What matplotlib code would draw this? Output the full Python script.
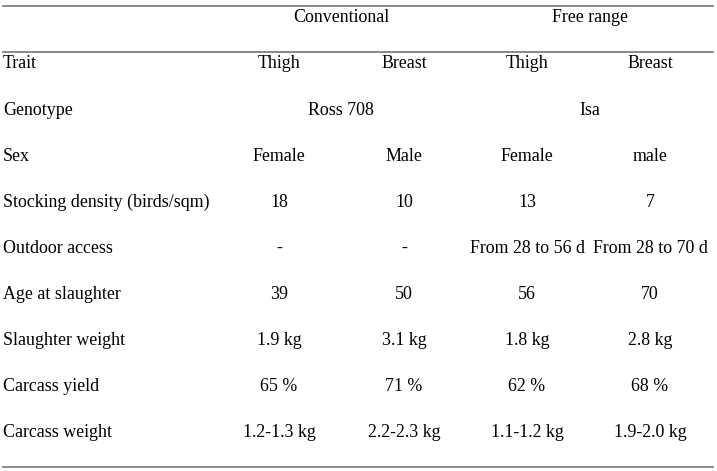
import matplotlib.pyplot as plt

plt.rcParams['font.family'] = ['Liberation Serif', 'DejaVu Serif']

systems = ["Conventional", "Free range"]
row_labels = ["Trait", "Genotype", "Sex", "Stocking density (birds/sqm)",
              "Outdoor access", "Age at slaughter", "Slaughter weight",
              "Carcass yield", "Carcass weight"]
trait = ["Thigh", "Breast", "Thigh", "Breast"]
genotype = ["Ross 708", "Isa"]
sex = ["Female", "Male", "Female", "male"]
density = ["18", "10", "13", "7"]
outdoor = ["-", "-", "From 28 to 56 d", "From 28 to 70 d"]
age = ["39", "50", "56", "70"]
slaughter_w = ["1.9 kg", "3.1 kg", "1.8 kg", "2.8 kg"]
yield_pct = ["65 %", "71 %", "62 %", "68 %"]
carcass_w = ["1.2-1.3 kg", "2.2-2.3 kg", "1.1-1.2 kg", "1.9-2.0 kg"]

fig = plt.figure(figsize=(7.17, 4.71), dpi=100)
ax = fig.add_axes([0, 0, 1, 1])
ax.set_xlim(0, 717)
ax.set_ylim(471, 0)
ax.axis('off')

fs = 12.9
col_x = [279, 404, 527, 650]
grp_x = [341, 590]
row_y = [64 + 46.1 * i for i in range(len(row_labels))]

# rules
lc = '#7f7f7f'
ax.plot([3, 713], [6, 6], color=lc, lw=1.3)
ax.plot([3, 713], [52, 52], color=lc, lw=1.3)
ax.plot([3, 713], [467, 467], color=lc, lw=1.3)

for x, s in zip(grp_x, systems):
    ax.text(x, 17, s, ha='center', va='center', fontsize=fs)

for y, lab in zip(row_y, row_labels):
    ax.text(3, y, lab, ha='left', va='center', fontsize=fs)

full_rows = [trait, None, sex, density, outdoor, age, slaughter_w, yield_pct, carcass_w]
for y, vals in zip(row_y, full_rows):
    if vals is None:
        for x, g in zip(grp_x, genotype):
            ax.text(x, y, g, ha='center', va='center', fontsize=fs)
        continue
    for x, v in zip(col_x, vals):
        ax.text(x, y, v, ha='center', va='center', fontsize=fs)

fig.savefig("out.png", dpi=100)
